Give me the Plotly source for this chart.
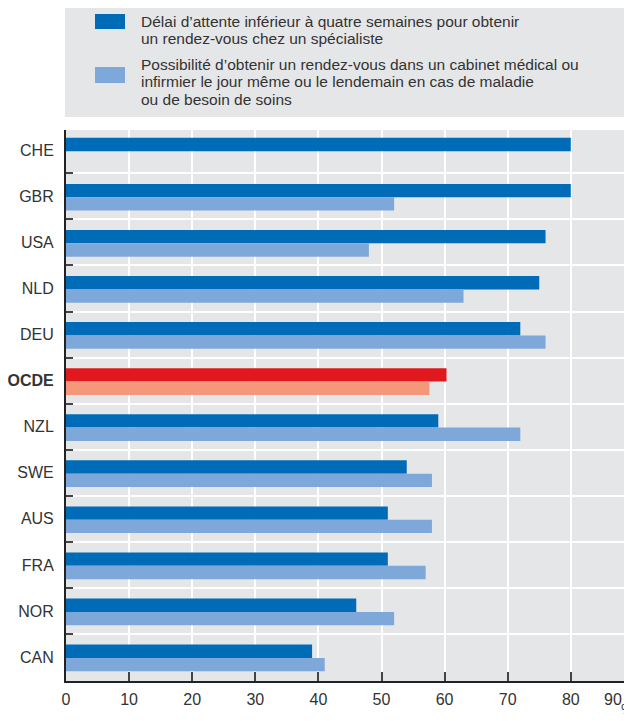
import plotly.graph_objects as go

# data (percent)
countries = ["CHE", "GBR", "USA", "NLD", "DEU", "OCDE", "NZL", "SWE", "AUS", "FRA", "NOR", "CAN"]
specialist = [80, 80, 76, 75, 72, 60.3, 59, 54, 51, 51, 46, 39]
same_day = [None, 52, 48, 63, 76, 57.6, 72, 58, 58, 57, 52, 41]

legend_spec = ["Délai d’attente inférieur à quatre semaines pour obtenir",
               "un rendez-vous chez un spécialiste"]
legend_same = ["Possibilité d’obtenir un rendez-vous dans un cabinet médical ou",
               "infirmier le jour même ou le lendemain en cas de maladie",
               "ou de besoin de soins"]

DARK = "#006CB7"
LIGHT = "#7FA8DA"
RED = "#E0191F"
SALMON = "#F5977A"
BG = "#E5E6E8"
TXT = "#333333"
FONT = "Liberation Sans, Arial, sans-serif"

# page body adds 8px, so the figure is 8px smaller than the window
W, H = 624, 713
ML, MT, MB = 58, 122, 40
PW, PH = W - ML, H - MT - MB


def px(x):
    return (x - ML) / PW


def py(y):
    return (H - MB - y) / PH


pos = list(range(len(countries)))
dark_cols = [RED if c == "OCDE" else DARK for c in countries]
light_cols = [SALMON if c == "OCDE" else LIGHT for c in countries]

fig = go.Figure()
fig.add_trace(go.Bar(x=specialist, y=pos, orientation="h", width=0.29, offset=-0.27,
                     marker=dict(color=dark_cols, line_width=0), showlegend=False))
fig.add_trace(go.Bar(x=same_day, y=pos, orientation="h", width=0.29, offset=0.02,
                     marker=dict(color=light_cols, line_width=0), showlegend=False))

ticktext = ["<b>OCDE</b>" if c == "OCDE" else c for c in countries]

fig.update_layout(
    width=W, height=H,
    margin=dict(l=ML, r=0, t=MT, b=MB, autoexpand=False),
    paper_bgcolor="white", plot_bgcolor=BG,
    barmode="overlay",
    font=dict(family=FONT, size=16, color=TXT),
    xaxis=dict(range=[0, 89.7], tickvals=[0, 10, 20, 30, 40, 50, 60, 70, 80],
               showgrid=True, gridcolor="white", gridwidth=2, zeroline=False,
               showline=True, linecolor="#222222", linewidth=2,
               ticks="inside", ticklen=9, tickcolor="#444444", tickwidth=1.5,
               ticklabelstandoff=3, tickfont=dict(size=16)),
    yaxis=dict(range=[11.52, -0.44], tickvals=pos, ticktext=ticktext,
               showgrid=False, zeroline=False, ticks="", ticklabelstandoff=7,
               showline=True, linecolor="#222222", linewidth=2,
               tickfont=dict(size=16),
               minor=dict(tickmode="array", tickvals=[p + 0.5 for p in pos[:-1]],
                          showgrid=True, gridcolor="white", gridwidth=2,
                          ticks="inside", ticklen=7, tickcolor="#444444", tickwidth=1.5)),
)

# legend box drawn by hand
fig.add_shape(type="rect", xref="paper", yref="paper", x0=px(57), x1=1.0,
              y0=py(109), y1=py(-2), fillcolor=BG, line_width=0, layer="below")
fig.add_shape(type="rect", xref="paper", yref="paper", x0=px(87), x1=px(117),
              y0=py(21), y1=py(6), fillcolor=DARK, line_width=0)
fig.add_shape(type="rect", xref="paper", yref="paper", x0=px(87), x1=px(117),
              y0=py(75), y1=py(59), fillcolor=LIGHT, line_width=0)

for line, yc in zip(legend_spec + legend_same, [13.5, 31, 56, 73.5, 91]):
    fig.add_annotation(xref="paper", yref="paper", x=px(132), y=py(yc),
                       xanchor="left", yanchor="middle", showarrow=False, borderpad=0,
                       text=line, font=dict(size=15.5, color=TXT))

# last tick label and unit
fig.add_annotation(xref="paper", yref="paper", x=px(605), y=py(691),
                   xanchor="center", yanchor="middle", showarrow=False, borderpad=0,
                   text="90", font=dict(size=16, color=TXT))
fig.add_annotation(xref="paper", yref="paper", x=px(619), y=py(701),
                   xanchor="center", yanchor="middle", showarrow=False, borderpad=0,
                   text="%", font=dict(size=14, color=TXT))

fig.write_html("out.html")
